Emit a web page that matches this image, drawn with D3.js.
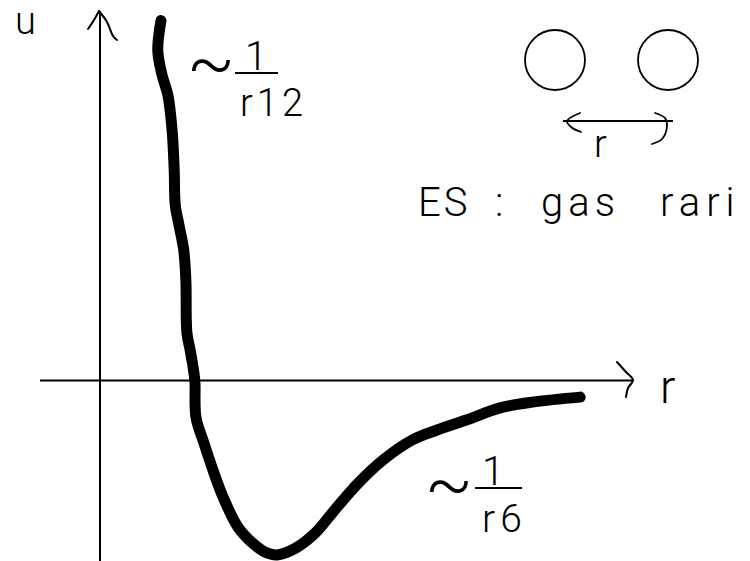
<!DOCTYPE html>
<html>
<head>
<meta charset="utf-8">
<script src="https://cdn.jsdelivr.net/npm/d3@7"></script>
<style>
  html, body { margin: 0; padding: 0; background: #fff; }
  svg { display: block; }
  text { font-family: Roboto, "Open Sans", "DejaVu Sans", sans-serif; font-weight: 300; fill: #000; }
</style>
</head>
<body>
<script>
// Lennard-Jones style pair potential u(r), sketched by hand
const rValues = [1.15, 1.09, 1.17, 1.28, 1.36, 1.40, 1.42, 1.49, 1.58, 1.62, 1.64, 1.70, 1.75, 1.79,
                 1.81, 1.96, 2.13, 2.32, 2.60, 2.87, 3.11, 3.34, 3.70, 4.06, 4.43, 4.89, 5.34, 5.89,
                 6.36, 6.91, 7.55, 8.19, 9.06];
const uValues = [9.74, 8.93, 8.27, 7.73, 6.78, 5.70, 4.75, 4.21, 3.53, 2.72, 1.29, 0.83, 0.42, -0.01,
                 -0.99, -1.69, -2.42, -3.15, -3.96, -4.39, -4.64, -4.72, -4.53, -4.13, -3.50, -2.75, -2.15, -1.61,
                 -1.34, -1.07, -0.74, -0.58, -0.45];
const rDomain = [0, 10];
const uDomain = [-4.75, 10];

const W = 750, H = 561;
const svg = d3.select("body").append("svg").attr("width", W).attr("height", H);

const x = d3.scaleLinear().domain(rDomain).range([100, 630]);
const y = d3.scaleLinear().domain(uDomain).range([556, 11]);

const ink = "#000";

// axes
svg.append("line").attr("x1", 40).attr("x2", 632).attr("y1", y(0)).attr("y2", y(0))
  .attr("stroke", ink).attr("stroke-width", 2);
svg.append("line").attr("x1", x(0)).attr("x2", x(0)).attr("y1", 11).attr("y2", 561)
  .attr("stroke", ink).attr("stroke-width", 2);

const arrow = d3.line().curve(d3.curveCatmullRom);
function stroke(points, w) {
  svg.append("path").attr("d", arrow(points))
    .attr("fill", "none").attr("stroke", ink).attr("stroke-width", w)
    .attr("stroke-linecap", "round").attr("stroke-linejoin", "round");
}
stroke([[88, 29], [94, 20], [99, 11]], 2);
stroke([[99, 11], [107, 22], [113, 36], [117, 40]], 2);
stroke([[617, 362], [626, 372], [633, 380], [628, 388], [626, 397]], 2);

// potential curve
const line = d3.line().x((d, i) => x(rValues[i])).y((d, i) => y(uValues[i])).curve(d3.curveCatmullRom);
svg.append("path").datum(rValues).attr("d", line)
  .attr("fill", "none").attr("stroke", ink).attr("stroke-width", 11)
  .attr("stroke-linecap", "round").attr("stroke-linejoin", "round");

// axis labels
svg.append("text").attr("x", 15).attr("y", 34).attr("font-size", 38).attr("font-weight", 400).text("u");
svg.append("text").attr("x", 660).attr("y", 403).attr("font-size", 46).text("r");

// asymptotic annotations: ~ 1/r^n
function approx(p) {
  svg.append("text").attr("x", p.tx).attr("y", p.ty).attr("font-size", 70)
    .attr("font-weight", 200).text("~");
  svg.append("text").attr("x", p.nx).attr("y", p.lineY - 3).attr("font-size", 40).text(p.num);
  svg.append("line").attr("x1", p.x1).attr("x2", p.x2).attr("y1", p.lineY).attr("y2", p.lineY)
    .attr("stroke", ink).attr("stroke-width", 1.8);
  svg.append("text").attr("x", p.dx).attr("y", p.dy).attr("font-size", p.ds)
    .attr("letter-spacing", p.ls).text(p.den);
}
approx({tx: 187, ty: 87, nx: 245, x1: 235, x2: 278, lineY: 73, dx: 240, dy: 116, ds: 38, ls: 4, num: "1", den: "r12"});
approx({tx: 425, ty: 508, nx: 482, x1: 475, x2: 522, lineY: 488, dx: 482, dy: 532, ds: 39, ls: 5, num: "1", den: "r6"});

// two particles separated by r
[555, 668].forEach(cx => {
  svg.append("circle").attr("cx", cx).attr("cy", 60).attr("r", 30)
    .attr("fill", "none").attr("stroke", ink).attr("stroke-width", 1.8);
});
svg.append("line").attr("x1", 563).attr("x2", 673).attr("y1", 121).attr("y2", 121)
  .attr("stroke", ink).attr("stroke-width", 1.8);
stroke([[580, 113], [567, 121], [571, 127], [581, 132]], 1.8);
stroke([[655, 113], [665, 118], [667, 126], [662, 139], [652, 144]], 1.8);
svg.append("text").attr("x", 594).attr("y", 157).attr("font-size", 38).text("r");

// example caption
const caption = [
  {t: "ES", x: 418, ls: 3},
  {t: ":", x: 495, ls: 0},
  {t: "gas", x: 541, ls: 5},
  {t: "rari", x: 660, ls: 6}
];
caption.forEach(c => {
  svg.append("text").attr("x", c.x).attr("y", 216).attr("font-size", 40)
    .attr("letter-spacing", c.ls).text(c.t);
});
</script>
</body>
</html>
